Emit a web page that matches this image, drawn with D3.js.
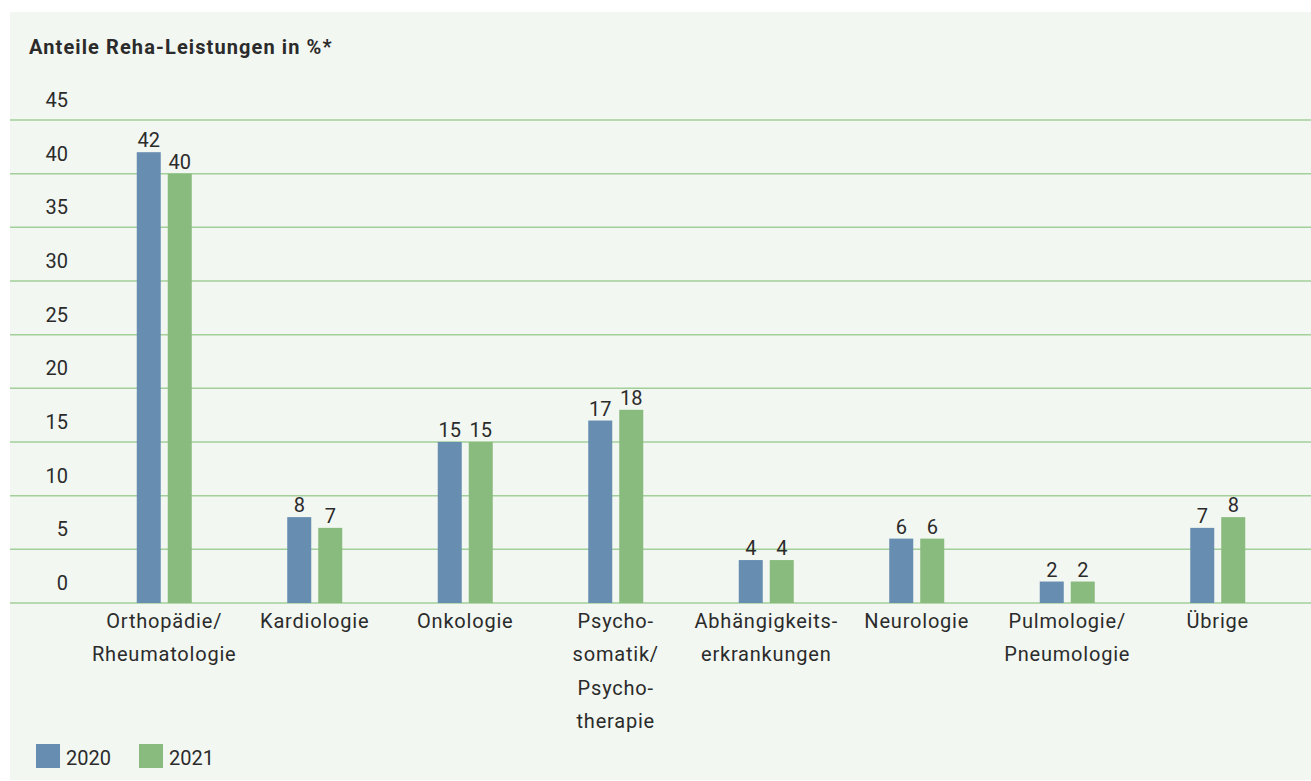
<!DOCTYPE html>
<html>
<head>
<meta charset="utf-8">
<script src="https://cdn.jsdelivr.net/npm/d3@7"></script>
<style>
  body { margin: 0; background: #fff; }
  text { font-family: Roboto, "DejaVu Sans", sans-serif; fill: #2b2b2b; }
</style>
</head>
<body>
<div id="chart"></div>
<script>
// data
var categories = [
  ["Orthopädie/", "Rheumatologie"],
  ["Kardiologie"],
  ["Onkologie"],
  ["Psycho-", "somatik/", "Psycho-", "therapie"],
  ["Abhängigkeits-", "erkrankungen"],
  ["Neurologie"],
  ["Pulmologie/", "Pneumologie"],
  ["Übrige"]
];
var values2020 = [42, 8, 15, 17, 4, 6, 2, 7];
var values2021 = [40, 7, 15, 18, 4, 6, 2, 8];
var seriesNames = ["2020", "2021"];
var yTicks = [0, 5, 10, 15, 20, 25, 30, 35, 40, 45];

var W = 1311, H = 781;
var colors = ["#678db0", "#89bb7e"];

var svg = d3.select("#chart")
  .append("svg")
    .attr("width", W)
    .attr("height", H);

// panel background
svg.append("rect")
  .attr("x", 10).attr("y", 12)
  .attr("width", W - 10).attr("height", H - 13)
  .attr("fill", "#f2f7f1");

svg.append("text")
  .attr("x", 29).attr("y", 54)
  .attr("font-weight", "bold")
  .style("font-size", "20px")
  .style("letter-spacing", "1.1px")
  .text("Anteile Reha-Leistungen in %*");

var x = d3.scaleBand()
  .domain(d3.range(categories.length))
  .range([89, 1293]);

var y = d3.scaleLinear().domain([0, 45]).range([603, 120]);

// gridlines
svg.append("g")
  .selectAll("line")
  .data(yTicks)
  .enter()
  .append("line")
    .attr("x1", 10).attr("x2", W)
    .attr("y1", function(d) { return y(d); })
    .attr("y2", function(d) { return y(d); })
    .attr("stroke", "#a3cf9a")
    .attr("stroke-width", 1.5);

// tick labels sit above their gridline
svg.append("g")
  .selectAll("text")
  .data(yTicks)
  .enter()
  .append("text")
    .attr("x", 68)
    .attr("y", function(d) { return y(d) - 13; })
    .attr("text-anchor", "end")
    .style("font-size", "20px")
    .text(function(d) { return d; });

var barW = 24, gap = 7;
var groups = svg.selectAll(".cat")
  .data(categories.map(function(c, i) {
    return { i: i, lines: c, vals: [values2020[i], values2021[i]] };
  }))
  .enter()
  .append("g")
    .attr("class", "cat")
    .attr("transform", function(d) {
      return "translate(" + (x(d.i) + x.bandwidth() / 2) + ",0)";
    });

groups.selectAll("rect")
  .data(function(d) { return d.vals; })
  .enter()
  .append("rect")
    .attr("x", function(d, j) { return j === 0 ? -(barW + gap / 2) : gap / 2; })
    .attr("y", function(d) { return y(d); })
    .attr("width", barW)
    .attr("height", function(d) { return y(0) - y(d); })
    .attr("fill", function(d, j) { return colors[j]; });

groups.selectAll(".val")
  .data(function(d) { return d.vals; })
  .enter()
  .append("text")
    .attr("class", "val")
    .attr("x", function(d, j) { return j === 0 ? -(barW / 2 + gap / 2) : barW / 2 + gap / 2; })
    .attr("y", function(d) { return y(d) - 5; })
    .attr("text-anchor", "middle")
    .style("font-size", "20px")
    .text(function(d) { return d; });

groups.selectAll(".lbl")
  .data(function(d) { return d.lines; })
  .enter()
  .append("text")
    .attr("class", "lbl")
    .attr("x", 0)
    .attr("y", function(d, k) { return 628 + k * 33.3; })
    .attr("text-anchor", "middle")
    .style("font-size", "20px")
    .style("letter-spacing", "0.8px")
    .text(function(d) { return d; });

// legend
var legend = svg.selectAll(".legend")
  .data(seriesNames)
  .enter()
  .append("g")
    .attr("class", "legend")
    .attr("transform", function(d, i) { return "translate(" + (36 + i * 103) + ",744)"; });

legend.append("rect")
  .attr("width", 24).attr("height", 24)
  .attr("fill", function(d, i) { return colors[i]; });

legend.append("text")
  .attr("x", 30).attr("y", 21)
  .style("font-size", "20px")
  .text(function(d) { return d; });
</script>
</body>
</html>
